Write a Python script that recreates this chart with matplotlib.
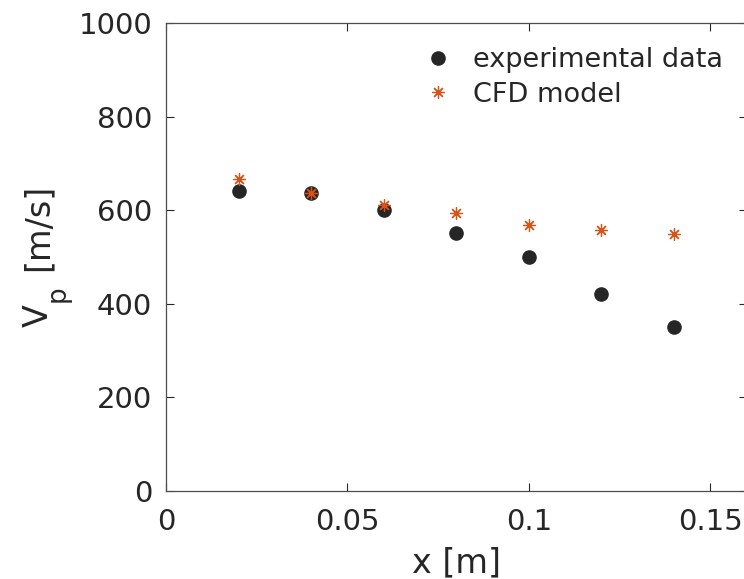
import matplotlib
matplotlib.use("Agg")
import matplotlib.pyplot as plt

x_exp = [0.02, 0.04, 0.06, 0.08, 0.10, 0.12, 0.14]
v_exp = [640, 636, 600, 551, 501, 421, 350]
x_cfd = [0.02, 0.04, 0.06, 0.08, 0.10, 0.12, 0.14]
v_cfd = [667, 637, 612, 593, 569, 558, 549]

xticks = [0, 0.05, 0.1, 0.15]
xticklabels = ["0", "0.05", "0.1", "0.15"]
yticks = [0, 200, 400, 600, 800, 1000]

txt = "#262626"
fig = plt.figure(figsize=(7.44, 5.79), dpi=100)
W, H = 744, 579
ax = fig.add_axes([166 / W, 1 - 491 / H, (746.6 - 166) / W, (491 - 23) / H])

ax.plot(x_exp, v_exp, 'o', color="#262626", markersize=9.5, linestyle='none',
        label="experimental data")
ax.plot(x_cfd, v_cfd, linestyle='none', color="#D95319", markersize=9,
        label="CFD model", marker=(8, 2, 0), markeredgewidth=0.9)

ax.set_xlim(0, 0.16)
ax.set_ylim(0, 1000)
ax.set_xticks(xticks)
ax.set_xticklabels(xticklabels)
ax.set_yticks(yticks)
ax.tick_params(direction='in', length=6, width=0.8, colors=txt, labelsize=21,
               top=True, right=True, pad=10)
ax.tick_params(axis='x', pad=12)
for s in ax.spines.values():
    s.set_color("#4d4d4d")
    s.set_linewidth(0.9)

ax.set_xlabel("x [m]", fontsize=24, color=txt, labelpad=7.5)

# y label "V_p [m/s]" with MATLAB-style lowered subscript
def ftext(px, py, s, size):
    fig.text(px / W, 1 - py / H, s, fontsize=size, color=txt, rotation=90,
             rotation_mode='anchor', ha='left', va='baseline')

ftext(48, 327, "V", 24)
ftext(64.5, 302, "p", 19)
ftext(48, 271, "[m/s]", 24)

leg = ax.legend(loc="upper right", frameon=False, fontsize=19.5,
                bbox_to_anchor=(0.988, 0.983), handletextpad=0.72,
                labelspacing=0.32, borderaxespad=0.2, handlelength=1.2)
for t in leg.get_texts():
    t.set_color(txt)

fig.savefig("out.png", dpi=100)
